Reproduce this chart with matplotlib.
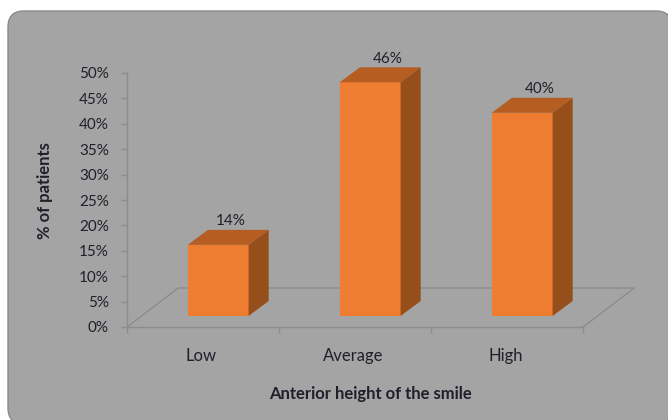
import matplotlib
matplotlib.use("Agg")
from matplotlib import pyplot as plt, patches

plt.rcParams['font.family'] = ['Lato', 'DejaVu Sans']

categories = ["Low", "Average", "High"]
values = [14, 46, 40]
yticks = [0, 5, 10, 15, 20, 25, 30, 35, 40, 45, 50]
xlabel = "Anterior height of the smile"
ylabel = "% of patients"

# 3D look: offsets in data units (x = categories, y = percent)
barWidth = 0.4
barStart = 0.4
base = 2.17
depthX = 0.132
depthY = 2.95
floorX = 0.338
floorY = 7.68
labelShift = [0.08, 0.115, 0.118]

textCol = "#20202a"
lineCol = "#8c8c8c"
front = "#ef7d31"
top = "#b65d22"
side = "#964f1b"

fig = plt.figure(figsize=(6.68, 4.20), dpi=100, facecolor="white")

# rounded grey panel, in inches so the corners stay round
panel = patches.FancyBboxPatch((0.08, -0.04), 6.64, 4.13, boxstyle="round,pad=0,rounding_size=0.16",
                               transform=fig.dpi_scale_trans, facecolor="#a4a4a4", edgecolor="#8a8a8a",
                               linewidth=1.0, zorder=-1)
fig.add_artist(panel)

ax = fig.add_axes([127/668, 93/420, 456/668, 254/420])
ax.patch.set_visible(False)
ax.set_xlim(0, len(categories))
ax.set_ylim(0, 50)

# floor
n = len(categories)
ax.add_patch(patches.Polygon([(0, 0), (floorX, floorY), (n + floorX, floorY), (n, 0)], closed=False,
                             fill=False, edgecolor=lineCol, linewidth=1.0, clip_on=False, zorder=1))

for i, v in enumerate(values):
    x0 = i + barStart
    x1 = x0 + barWidth
    y0 = base
    y1 = base + v
    ax.bar(x0, v, width=barWidth, bottom=base, align="edge", color=front, edgecolor="none", zorder=3)
    ax.add_patch(patches.Polygon([(x0, y1), (x0 + depthX, y1 + depthY), (x1 + depthX, y1 + depthY), (x1, y1)],
                                 facecolor=top, edgecolor="none", clip_on=False, zorder=3))
    ax.add_patch(patches.Polygon([(x1, y0), (x1 + depthX, y0 + depthY), (x1 + depthX, y1 + depthY), (x1, y1)],
                                 facecolor=side, edgecolor="none", clip_on=False, zorder=3))
    ax.text(x0 + barWidth / 2 + labelShift[i], y1 + depthY + 0.3, "%d%%" % v, ha="center", va="bottom",
            fontsize=11, color=textCol, zorder=4)

for s in ["top", "right"]:
    ax.spines[s].set_visible(False)
for s in ["left", "bottom"]:
    ax.spines[s].set_color(lineCol)
    ax.spines[s].set_linewidth(1.0)

ax.set_yticks(yticks)
ax.set_yticklabels(["%d%%" % t for t in yticks], fontsize=11, color=textCol)
ax.tick_params(axis='y', length=4, width=1.0, color=lineCol, pad=9)

ax.set_xticks(range(n + 1))
ax.set_xticklabels([])
ax.tick_params(axis='x', length=4, width=1.0, color=lineCol)
ax.set_xticks([i + 0.49 for i in range(n)], minor=True)
ax.set_xticklabels(categories, minor=True, fontsize=12, color=textCol)
ax.tick_params(axis='x', which='minor', length=0, pad=15)

ax.set_xlabel(xlabel, fontsize=12, fontweight="bold", color=textCol)
ax.xaxis.set_label_coords(0.533, -0.265)
ax.xaxis.label.set_verticalalignment("center")
ax.set_ylabel(ylabel, fontsize=12, fontweight="bold", color=textCol)
ax.yaxis.set_label_coords(-0.179, 0.537)
ax.yaxis.label.set_verticalalignment("center")

fig.savefig('out.png', dpi=100)
